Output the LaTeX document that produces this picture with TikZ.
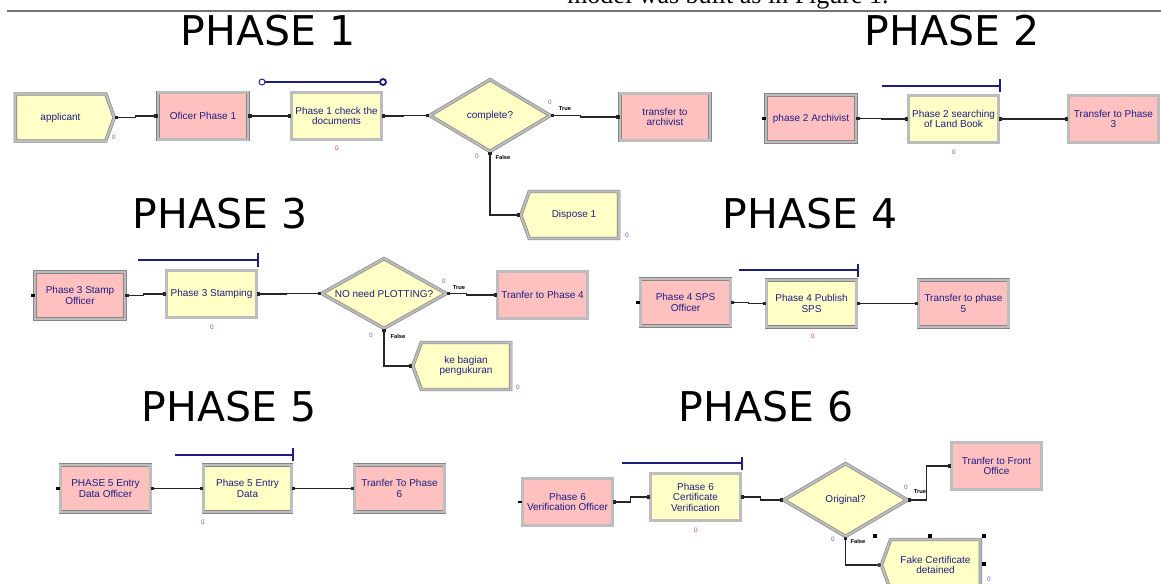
\documentclass[tikz,border=0pt]{standalone}
\usepackage{fontspec}
\setmainfont{Liberation Sans}
\newfontfamily\lblfont{Liberation Sans}
\newfontfamily\titlefont{DejaVu Sans}
\newfontfamily\serffont{Liberation Serif}
\usetikzlibrary{shapes.geometric,shapes.symbols,arrows.meta,calc}
\def\pxu{0.75pt}
\definecolor{pinkc}{RGB}{255,192,192}
\definecolor{yelc}{RGB}{255,255,198}
\definecolor{navyc}{RGB}{30,30,130}
\definecolor{markblue}{RGB}{110,90,210}
\definecolor{markred}{RGB}{190,70,70}
\tikzset{
  modframe/.style={draw=black!48, double=black!26, double distance=1.6pt, line width=0.5pt},
  lbl/.style={font=\lblfont\fontsize{7.5}{7.9}\selectfont, text=navyc, align=center},
  pbox/.style={rectangle, modframe, fill=pinkc, lbl, minimum width=90*\pxu, minimum height=47*\pxu, inner sep=1pt},
  ybox/.style={pbox, fill=yelc},
  decis/.style={diamond, modframe, fill=yelc, lbl, inner sep=0pt},
  createm/.style={signal, signal to=east, signal pointer angle=140, modframe, fill=yelc, lbl, inner sep=1pt},
  disposem/.style={signal, signal to=west, signal pointer angle=140, modframe, fill=yelc, lbl, inner sep=1pt},
  sq/.tip={Square[length=2.4pt,width=2.4pt]},
  conn/.style={draw=black!85, line width=0.8pt, sq-sq},
  resl/.style={draw=navyc, line width=0.8pt},
  phasetitle/.style={font=\titlefont\fontsize{30.75}{32}\selectfont, anchor=base, inner sep=0pt},
  tf/.style={font=\lblfont\bfseries\fontsize{4.3}{5}\selectfont, text=black, inner sep=0pt},
  mb/.style={font=\lblfont\fontsize{4.8}{5}\selectfont, text=markblue, inner sep=0pt},
  mr/.style={mb, text=markred},
  handle/.style={fill=black},
}
\begin{document}
\begin{tikzpicture}[x=0.75pt,y=-0.75pt]
\useasboundingbox (0,0) rectangle (1161,584);
\clip (0,0) rectangle (1161,584);
\fill[white] (0,0) rectangle (1161,584);
% header remnant
\node[font=\serffont\fontsize{19.5}{20}\selectfont, anchor=base west, inner sep=0pt] (hdr) at (567,4) {model was built as in Figure 1.};
\draw[black!55, line width=1.1pt] (7,11) -- (1161,11);
% titles
\node[phasetitle] (t1) at (268,46) {PHASE 1};
\node[phasetitle] (t2) at (952,46) {PHASE 2};
\node[phasetitle] (t3) at (220,229) {PHASE 3};
\node[phasetitle] (t4) at (810,229) {PHASE 4};
\node[phasetitle] (t5) at (229,422) {PHASE 5};
\node[phasetitle] (t6) at (766,422) {PHASE 6};
% ---------- PHASE 1
\node[createm, minimum width=99*\pxu, minimum height=47*\pxu] (app) at (60.5,117.5) {applicant};
\node[pbox] (off1) at (203,116) {Oficer Phase 1};
\node[ybox] (chk1) at (336.5,116) {Phase 1 check the\\documents};
\node[decis, aspect=1.68, minimum width=121*\pxu, minimum height=72*\pxu] (dec1) at (490,115.5) {complete?};
\node[pbox] (tra1) at (665,117) {transfer to\\archivist};
\node[disposem, minimum width=98*\pxu, minimum height=47*\pxu] (disp1) at (574,215) {Dispose 1};
\draw[conn] (app.east) -- ++(21,0) |- (off1.west);
\draw[conn] (off1.east) -- ++(21,0) |- (chk1.west);
\draw[conn] (chk1.east) -- ++(22,0) |- (dec1.west);
\draw[conn] (dec1.east) -- ++(30,0) |- (tra1.west);
\draw[conn] (dec1.south) |- (disp1.west);
\draw[resl] (265,82) -- (380,82);
\draw[navyc, line width=0.7pt] (262,82) circle (3);
\draw[navyc, line width=1.4pt] (383,82) circle (3);
\node[tf] (tt1) at (565,109) {True};
\node[tf] (ff1) at (503,157) {False};
\node[mb] (m1) at (114,137) {0};
\node[mr] (m2) at (337,148) {0};
\node[mb] (m3) at (550,102) {0};
\node[mb] (m4) at (477,156) {0};
\node[mb] (m5) at (627,235) {0};
% ---------- PHASE 2
\node[pbox] (arc2) at (811,118.5) {phase 2 Archivist};
\node[ybox] (srch2) at (953.5,119) {Phase 2 searching\\of Land Book};
\node[pbox] (tr3) at (1113.5,119) {Transfer to Phase\\3};
\fill ($(arc2.west)+(-4,-1.3)$) rectangle ($(arc2.west)+(0,1.3)$);
\draw[conn] (arc2.east) -- ++(25,0) |- (srch2.west);
\draw[conn] (srch2.east) -- ++(34,0) |- (tr3.west);
\draw[resl] (882,86) -- (1000,86);
\draw[resl] (1000,79) -- (1000,92);
\node[mr] (m6) at (954,152) {0};
% ---------- PHASE 3
\node[pbox] (st3) at (80,295.5) {Phase 3 Stamp\\Officer};
\node[ybox] (stamp3) at (211.5,294) {Phase 3 Stamping};
\node[decis, aspect=1.75, minimum width=125*\pxu, minimum height=70*\pxu] (dec3) at (384,293.5) {NO need PLOTTING?};
\node[pbox] (tr4) at (542.5,295) {Tranfer to Phase 4};
\node[disposem, minimum width=98*\pxu, minimum height=47*\pxu] (kb) at (466,366) {ke bagian\\pengukuran};
\fill ($(st3.west)+(-4,-1.3)$) rectangle ($(st3.west)+(0,1.3)$);
\draw[conn] (st3.east) -- ++(18,0) |- (stamp3.west);
\draw[conn] (stamp3.east) -- ++(30,0) |- (dec3.west);
\draw[conn] (dec3.east) -- ++(20,0) |- (tr4.west);
\draw[conn] (dec3.south) |- (kb.west);
\draw[resl] (138,260) -- (258,260);
\draw[resl] (258,253) -- (258,267);
\node[tf] (tt3) at (459,288) {True};
\node[tf] (ff3) at (398,336) {False};
\node[mr] (m7) at (212,327) {0};
\node[mb] (m8) at (444,281) {0};
\node[mb] (m9) at (371,335) {0};
\node[mb] (m10) at (518,387) {0};
% ---------- PHASE 4
\node[pbox] (sps4) at (685.5,302.5) {Phase 4 SPS\\Officer};
\node[ybox] (pub4) at (811.5,303.5) {Phase 4 Publish\\SPS};
\node[pbox] (tr5) at (963.5,303.5) {Transfer to phase\\5};
\fill ($(sps4.west)+(-4,-1.3)$) rectangle ($(sps4.west)+(0,1.3)$);
\draw[conn] (sps4.east) -- ++(18,0) |- (pub4.west);
\draw[conn] (pub4.east) -- ++(28,0) |- (tr5.west);
\draw[resl] (739,270) -- (858,270);
\draw[resl] (858,264) -- (858,277);
\node[mr] (m11) at (813,336) {0};
% ---------- PHASE 5
\node[pbox] (de5) at (105.5,488.5) {PHASE 5 Entry\\Data Officer};
\node[ybox, minimum width=88*\pxu] (ed5) at (247.5,488.5) {Phase 5 Entry\\Data};
\node[pbox] (tr6) at (399.5,488.5) {Tranfer To Phase\\6};
\fill ($(de5.west)+(-4,-1.3)$) rectangle ($(de5.west)+(0,1.3)$);
\draw[conn] (de5.east) -- (ed5.west);
\draw[conn] (ed5.east) -- (tr6.west);
\draw[resl] (175,455) -- (293,455);
\draw[resl] (293,448) -- (293,461);
\node[mr] (m12) at (203,522) {0};
% ---------- PHASE 6
\node[pbox] (vo6) at (567.5,502) {Phase 6\\Verification Officer};
\node[ybox] (cv6) at (695.5,497) {Phase 6\\Certificate\\Verification};
\node[decis, aspect=1.68, minimum width=124*\pxu, minimum height=73*\pxu] (dec6) at (845.5,500) {Original?};
\node[pbox] (fo6) at (996.5,466) {Tranfer to Front\\Office};
\node[disposem, minimum width=99*\pxu, minimum height=51*\pxu] (fk6) at (935.5,565) {Fake Certificate\\detained};
\fill ($(vo6.west)+(-4,-1.3)$) rectangle ($(vo6.west)+(0,1.3)$);
\draw[conn] (vo6.east) -- ++(18,0) |- (cv6.west);
\draw[conn] (cv6.east) -- ++(20,0) |- (dec6.west);
\draw[conn] (dec6.east) -- ++(19,0) |- (fo6.west);
\draw[draw=black!85, line width=0.8pt, sq-{Circle[open,length=3.2pt,width=3.2pt]}] (dec6.south) |- (fk6.west);
\draw[resl] (622,463) -- (742,463);
\draw[resl] (742,457) -- (742,470);
\node[tf] (tt6) at (920,492) {True};
\node[tf] (ff6) at (858,541) {False};
\node[mr] (m13) at (696,530) {0};
\node[mb] (m14) at (906,487) {0};
\node[mb] (m15) at (833,539) {0};
\node[mb] (m16) at (989,579) {0};
\fill[handle] (873,534) rectangle (877,538);
\fill[handle] (928,534) rectangle (932,538);
\fill[handle] (982,534) rectangle (986,538);
\fill[handle] (982,562) rectangle (986,566);
\end{tikzpicture}
\end{document}
